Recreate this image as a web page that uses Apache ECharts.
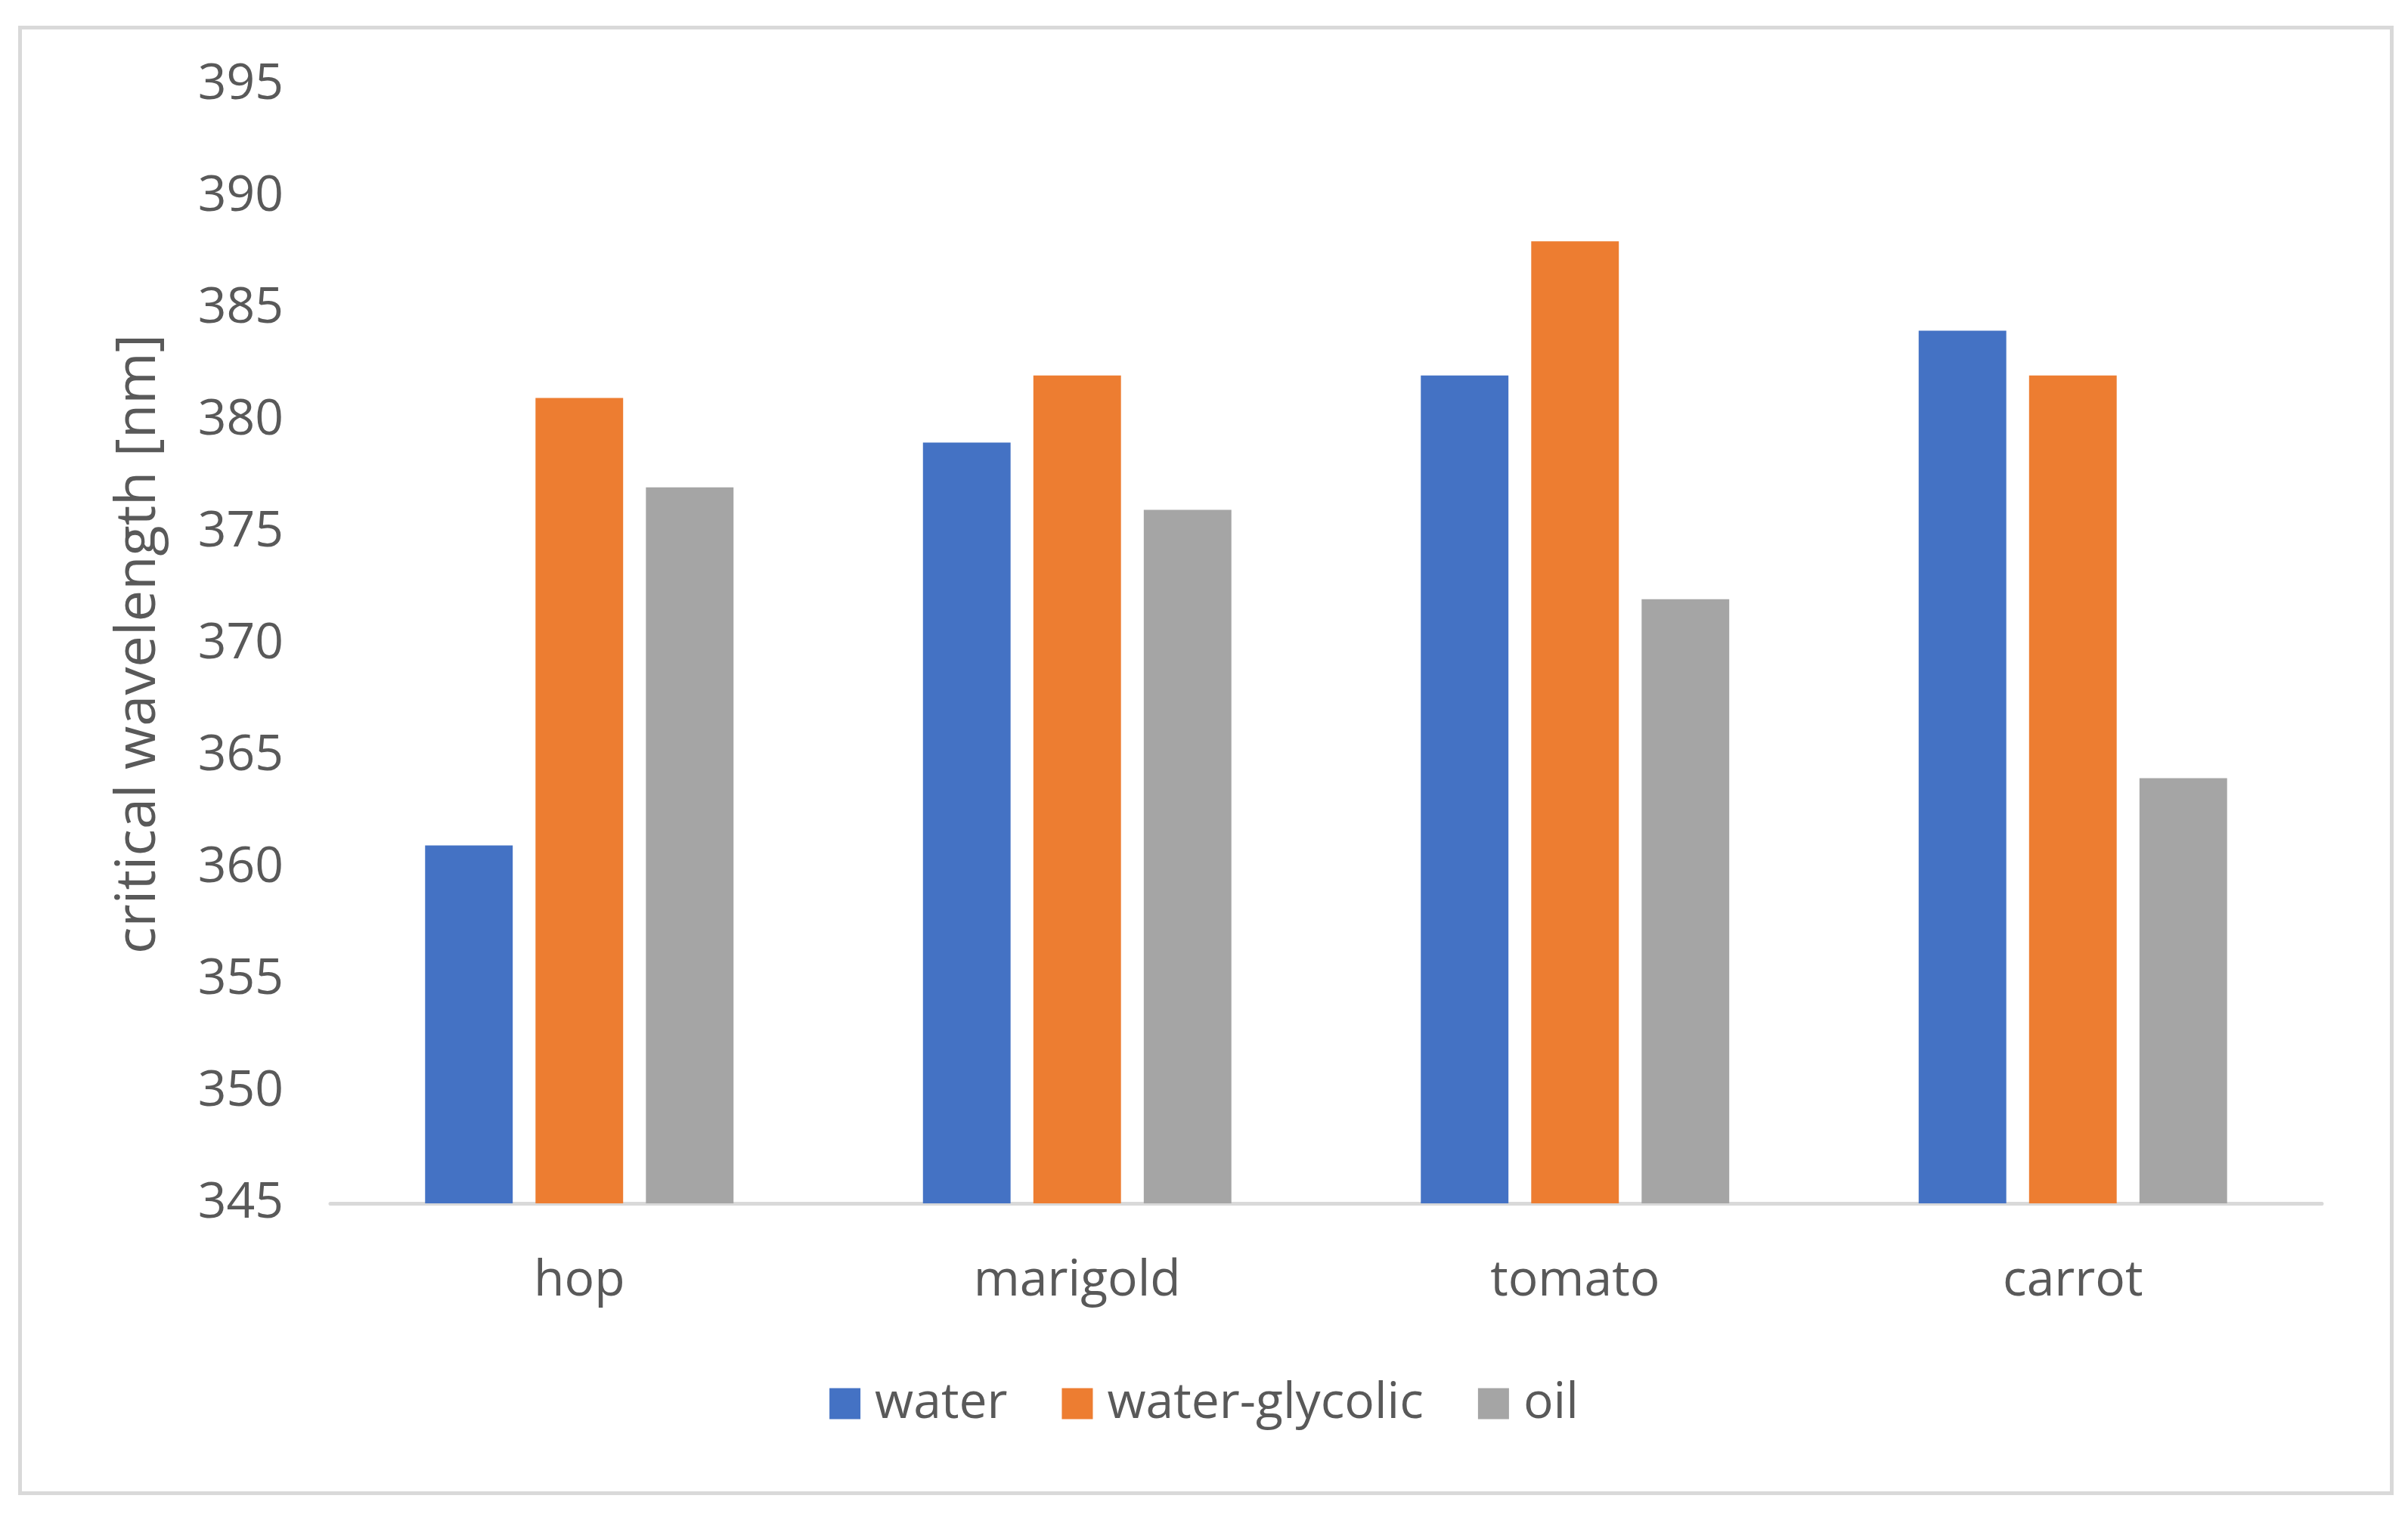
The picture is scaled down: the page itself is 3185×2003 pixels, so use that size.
<!DOCTYPE html>
<html>
<head>
<meta charset="utf-8">
<script src="https://cdn.jsdelivr.net/npm/echarts@6/dist/echarts.min.js"></script>
<style>
html,body{margin:0;padding:0;background:#fff;}
#frame{position:absolute;left:24px;top:34px;width:3142px;height:1944px;border:5px solid #d9d9d9;box-sizing:border-box;}
#chart{position:absolute;left:0;top:0;width:3185px;height:2003px;}
</style>
</head>
<body>
<div id="frame"></div>
<div id="chart"></div>
<script>
const categories = ['hop', 'marigold', 'tomato', 'carrot'];
const seriesNames = ['water', 'water-glycolic', 'oil'];
const water = [361, 379, 382, 384];
const waterGlycolic = [381, 382, 388, 382];
const oil = [377, 376, 372, 364];
const yTicks = [345, 350, 355, 360, 365, 370, 375, 380, 385, 390, 395];
const colors = ['#4472c4', '#ed7d31', '#a5a5a5'];

const font = "'Open Sans', sans-serif";
const txt = '#595959';
const chart = echarts.init(document.getElementById('chart'), null, {renderer: 'canvas'});
const dataSets = [water, waterGlycolic, oil];
chart.setOption({
  animation: false,
  color: colors,
  grid: {left: 437, right: 114, top: 112, bottom: 411, containLabel: false},
  legend: {
    data: seriesNames,
    bottom: 108,
    left: 'center',
    itemWidth: 41,
    itemHeight: 41,
    itemGap: 72,
    icon: 'rect',
    textStyle: {fontFamily: font, fontSize: 66, color: txt, padding: [0, 0, 0, 14]}
  },
  xAxis: {
    type: 'category',
    data: categories,
    axisLine: {show: true, lineStyle: {color: '#d9d9d9', width: 5}},
    axisTick: {show: false},
    axisLabel: {fontFamily: font, fontSize: 66, color: txt, margin: 70}
  },
  yAxis: {
    type: 'value',
    min: yTicks[0],
    max: yTicks[yTicks.length - 1],
    interval: 5,
    name: 'critical wavelength [nm]',
    nameLocation: 'middle',
    nameGap: 216,
    nameTextStyle: {fontFamily: font, fontSize: 74, color: txt},
    splitLine: {show: false},
    axisLine: {show: false},
    axisTick: {show: false},
    axisLabel: {fontFamily: font, fontSize: 66, color: txt, margin: 62}
  },
  series: dataSets.map((d, i) => ({
    name: seriesNames[i],
    type: 'bar',
    data: d,
    barWidth: '17.6%',
    barGap: '26%'
  }))
});
</script>
</body>
</html>
